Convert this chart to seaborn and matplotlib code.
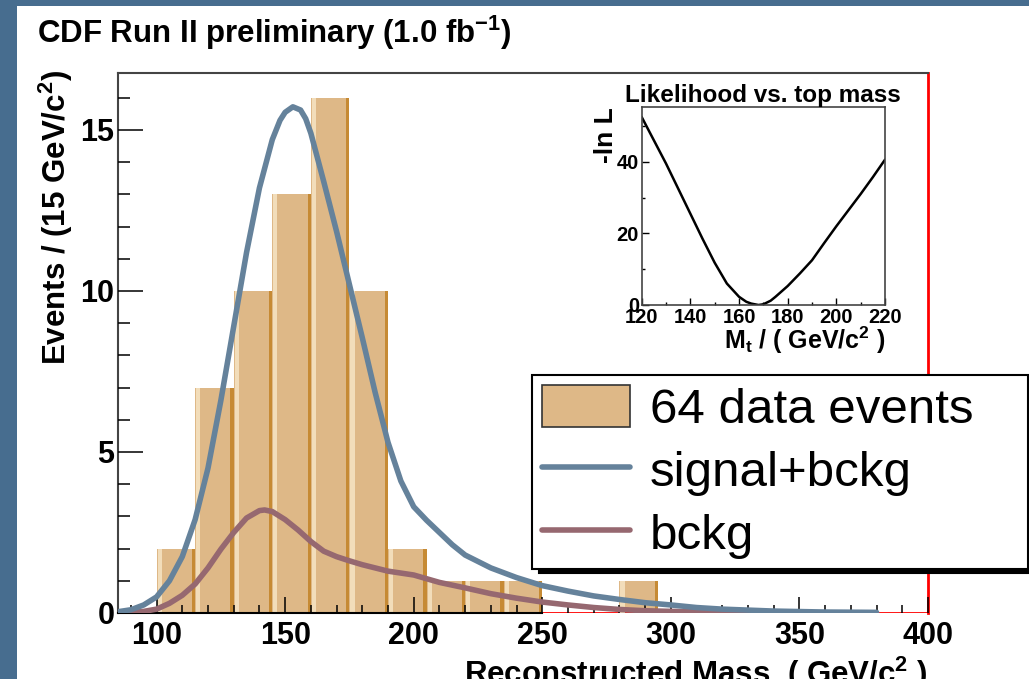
import numpy as np
import pandas as pd
import matplotlib
matplotlib.use("Agg")
import matplotlib.pyplot as plt
from matplotlib.patches import Rectangle
from matplotlib.ticker import MultipleLocator
import seaborn as sns

# ---------------- data ----------------
bin_low = [100, 115, 130, 145, 160, 175, 190, 205, 220, 235, 250, 265, 280]
bin_width = 15
counts = [2, 7, 10, 13, 16, 10, 2, 1, 1, 1, 0, 0, 1]

sig_mass = [85, 90, 95, 100, 105, 110, 115, 120, 125, 130, 135, 140, 145, 148, 150, 153, 156,
            158, 160, 165, 170, 175, 180, 185, 190, 195, 200, 205, 210, 215, 220, 230, 240,
            250, 260, 270, 280, 290, 300, 310, 320, 340, 360, 380]
sig_vals = [0.04, 0.1, 0.25, 0.5, 1.0, 1.75, 2.9, 4.5, 6.6, 8.9, 11.2, 13.2, 14.7, 15.3, 15.55, 15.72, 15.62,
            15.35, 14.9, 13.4, 11.85, 10.2, 8.55, 6.85, 5.3, 4.1, 3.3, 2.88, 2.5, 2.12, 1.8, 1.4, 1.1,
            0.85, 0.68, 0.53, 0.42, 0.32, 0.25, 0.17, 0.12, 0.06, 0.03, 0.02]

bkg_mass = [88, 95, 100, 105, 110, 115, 120, 125, 130, 135, 140, 142, 145, 150, 155, 160,
            165, 170, 175, 180, 190, 200, 210, 220, 230, 240, 250, 260, 270, 280, 290, 300,
            320, 340]
bkg_vals = [0.0, 0.05, 0.12, 0.3, 0.55, 0.9, 1.4, 1.98, 2.5, 2.95, 3.18, 3.2, 3.15, 2.9, 2.58, 2.22,
            1.92, 1.75, 1.62, 1.5, 1.3, 1.18, 0.95, 0.78, 0.6, 0.46, 0.34, 0.25, 0.17, 0.11, 0.07, 0.05,
            0.03, 0.01]

mt_vals = [120, 125, 130, 135, 140, 145, 150, 155, 160, 163, 165, 168, 170, 173, 175, 180, 185,
           190, 195, 200, 205, 210, 215, 220]
nll_vals = [52.5, 46.0, 39.5, 32.5, 25.5, 18.5, 11.8, 6.0, 2.3, 0.9, 0.4, 0.0, 0.2, 1.2, 2.3, 5.3, 8.8,
            12.5, 17.3, 22.0, 26.5, 31.0, 35.7, 40.6]

title_text = "CDF Run II preliminary (1.0 fb$^{\\mathbf{-1}}$)"
legend_labels = ["64 data events", "signal+bckg", "bckg"]

# ---------------- style ----------------
sns.set_style("white")
plt.rcParams["font.family"] = ["Liberation Sans", "DejaVu Sans"]
plt.rcParams["mathtext.fontset"] = "custom"
plt.rcParams["mathtext.rm"] = "Liberation Sans:bold"
plt.rcParams["mathtext.bf"] = "Liberation Sans:bold"
plt.rcParams["mathtext.it"] = "Liberation Sans:bold"
for k in ["text.color", "axes.labelcolor", "xtick.color", "ytick.color"]:
    plt.rcParams[k] = "black"

BAR = "#DEB887"
BAR_DARK = "#C68A34"
BAR_LIGHT = "#F2DDBA"
SIG = "#65829B"
BKG = "#966870"
SLIDE = "#476D8F"

W, H = 1029, 679
fig = plt.figure(figsize=(W / 100, H / 100), dpi=100)
fig.patch.set_facecolor(SLIDE)
fig.add_artist(Rectangle((17 / W, 0), 1, (H - 6) / H, transform=fig.transFigure,
                         facecolor="white", edgecolor="none", zorder=-10))

ax = fig.add_axes([118 / W, 1 - 613 / H, (928 - 118) / W, (613 - 73) / H])
ax.set_facecolor("white")

# histogram via seaborn
edges = bin_low + [bin_low[-1] + bin_width]
centers = [b + bin_width / 2 for b in bin_low]
hist_df = pd.DataFrame({"mass": centers, "n": counts})
sns.histplot(data=hist_df, x="mass", weights="n", bins=edges, ax=ax,
             color=BAR, alpha=1.0, edgecolor="none", linewidth=0, zorder=1)
# bar shading (light left stripe, darker right edge)
ax.bar([b + 0.4 for b in bin_low], counts, width=1.6, align="edge",
       color=BAR_LIGHT, edgecolor="none", zorder=1.1)
ax.bar([b + bin_width - 1.3 for b in bin_low], counts, width=1.3, align="edge",
       color=BAR_DARK, edgecolor="none", zorder=1.1)

ax.axhline(0, xmin=(250 - 85) / (400 - 85), xmax=1, color="red", lw=2, zorder=1.05)

sns.lineplot(x=bkg_mass, y=bkg_vals, ax=ax, color=BKG, lw=4, zorder=3)
sns.lineplot(x=sig_mass, y=sig_vals, ax=ax, color=SIG, lw=4, zorder=3.2)

ax.set_xlim(85, 400)
ax.set_ylim(0, 16.77)
ax.xaxis.set_major_locator(MultipleLocator(50))
ax.xaxis.set_minor_locator(MultipleLocator(10))
ax.yaxis.set_major_locator(MultipleLocator(5))
ax.yaxis.set_minor_locator(MultipleLocator(1))
ax.set_axisbelow(False)
ax.tick_params(axis="both", which="both", bottom=True, left=True, top=False, right=False)
ax.tick_params(axis="x", which="major", direction="in", length=11.5, width=1.1,
               labelsize=22, pad=6)
ax.tick_params(axis="x", which="minor", direction="in", length=5.5, width=1.1)
ax.tick_params(axis="y", which="major", direction="in", length=18, width=1.1,
               labelsize=22, pad=2.5)
ax.tick_params(axis="y", which="minor", direction="in", length=8.5, width=1.1)
for lab in ax.get_xticklabels() + ax.get_yticklabels():
    lab.set_fontweight("bold")

for side in ["left", "top"]:
    ax.spines[side].set_color("#444444")
    ax.spines[side].set_linewidth(1.5)
ax.spines["bottom"].set_color("black")
ax.spines["bottom"].set_linewidth(1.5)
ax.spines["bottom"].set_bounds(85, 250)
ax.spines["right"].set_color("red")
ax.spines["right"].set_linewidth(2)

ax.set_ylabel("Events / (15 GeV/c$^{\\mathbf{2}}$)", fontsize=22.5, fontweight="bold", loc="top")
ax.yaxis.set_label_coords(-0.053, 1.005)
ax.set_xlabel("Reconstructed Mass  ( GeV/c$^{\\mathbf{2}}$ )", fontsize=22.5,
              fontweight="bold", loc="right")
ax.xaxis.set_label_coords(1.0, -0.078)

fig.text(37 / W, 1 - 33 / H, title_text, fontsize=22.5, fontweight="bold",
         ha="left", va="center")

# legend
handles = [Rectangle((0, 0), 1, 1, facecolor=BAR, edgecolor="#333333", lw=1.2),
           plt.Line2D([], [], color=SIG, lw=4),
           plt.Line2D([], [], color=BKG, lw=4)]
leg = ax.legend(handles, legend_labels, loc="upper left",
                bbox_to_anchor=(531.7 / W, 1 - 570.7 / H, 496 / W, 195.7 / H),
                bbox_transform=fig.transFigure, mode="expand", borderaxespad=0,
                prop={"family": "Liberation Sans", "size": 35.5},
                handlelength=1.8, handleheight=0.95, handletextpad=0.4,
                labelspacing=0.3, borderpad=0.2, fancybox=False, framealpha=1,
                edgecolor="black", labelcolor="black",
                shadow={"color": "black", "alpha": 1, "ox": 5, "oy": -3})
leg.get_frame().set_linewidth(1.5)
leg.set_zorder(10)

# inset
axin = fig.add_axes([641.7 / W, 1 - 305 / H, (885 - 641.7) / W, (305 - 107) / H])
axin.set_facecolor("white")
sns.lineplot(x=mt_vals, y=nll_vals, ax=axin, color="black", lw=1.8)
axin.set_xlim(120, 220)
axin.set_ylim(0, 55.3)
axin.xaxis.set_major_locator(MultipleLocator(20))
axin.xaxis.set_minor_locator(MultipleLocator(10))
axin.yaxis.set_major_locator(MultipleLocator(20))
axin.yaxis.set_minor_locator(MultipleLocator(10))
axin.tick_params(which="both", bottom=True, left=True, top=False, right=False)
axin.tick_params(which="major", direction="in", length=5, width=1, labelsize=14.5, pad=2)
axin.tick_params(which="minor", direction="in", length=2.5, width=1)
for lab in axin.get_xticklabels() + axin.get_yticklabels():
    lab.set_fontweight("bold")
for s in axin.spines.values():
    s.set_color("#444444")
    s.set_linewidth(1.2)
axin.set_title("Likelihood vs. top mass", fontsize=17.5, fontweight="bold", pad=3)
axin.set_ylabel("-ln L", fontsize=19, fontweight="bold", loc="top")
axin.yaxis.set_label_coords(-0.098, 1.0)
axin.set_xlabel("M$_{\\mathbf{t}}$ / ( GeV/c$^{\\mathbf{2}}$ )", fontsize=18,
                fontweight="bold", loc="right")
axin.xaxis.set_label_coords(1.0, -0.1)

fig.savefig("out.png", dpi=100, facecolor=fig.get_facecolor())
